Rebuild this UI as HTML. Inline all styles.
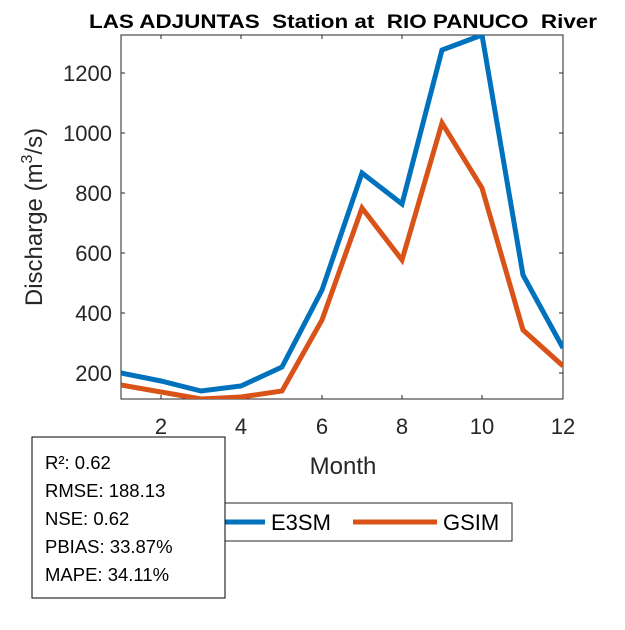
<!DOCTYPE html>
<html><head><style>body{margin:0;background:#fff}</style></head><body>
<svg width="625" height="625" xmlns="http://www.w3.org/2000/svg" font-family="Liberation Sans, Arial, sans-serif">
<rect width="625" height="625" fill="#fff"/>
<text x="89" y="28" font-size="19" font-weight="bold" fill="#000" textLength="508" lengthAdjust="spacingAndGlyphs" style="white-space:pre">LAS ADJUNTAS&#160; Station at&#160; RIO PANUCO&#160; River</text>
<g stroke="#262626" stroke-width="1" fill="none">
<rect x="121" y="35" width="442" height="364"/>
<path d="M161 399v-4M241 399v-4M322 399v-4M402 399v-4M482 399v-4M563 399v-4"/>
<path d="M161 35v4M241 35v4M322 35v4M402 35v4M482 35v4"/>
<path d="M121 73h4M121 133h4M121 193h4M121 253h4M121 313h4M121 373h4"/>
<path d="M563 73h-4M563 133h-4M563 193h-4M563 253h-4M563 313h-4M563 373h-4"/>
</g>
<g font-size="22" fill="#262626" text-anchor="middle">
<text x="161" y="434">2</text><text x="241" y="434">4</text><text x="322" y="434">6</text><text x="402" y="434">8</text><text x="482" y="434">10</text><text x="563" y="434">12</text>
</g>
<g font-size="22" fill="#262626" text-anchor="end">
<text x="112" y="81">1200</text><text x="112" y="141">1000</text><text x="112" y="201">800</text><text x="112" y="261">600</text><text x="112" y="321">400</text><text x="112" y="381">200</text>
</g>
<text x="343" y="474" font-size="24" fill="#262626" text-anchor="middle">Month</text>
<text transform="translate(42,217) rotate(-90)" font-size="24" fill="#262626" text-anchor="middle">Discharge (m<tspan font-size="16" dy="-10">3</tspan><tspan dy="10">/s)</tspan></text>
<svg x="121" y="35" width="442" height="364" overflow="hidden">
<g transform="translate(-121,-35)" fill="none" stroke-width="5" stroke-linejoin="miter">
<polyline stroke="#D95319" points="121,385 161,392 201,399 241,397 282,391 322,320 362,208 402,260 442,123 482,188 523,330 563,366"/>
<polyline stroke="#0072BD" points="121,373 161,381 201,391 241,386 282,367 322,290 362,173 402,204 442,50 482,35 523,275 563,348"/>
</g></svg>
<rect x="190" y="503" width="322" height="38" fill="#fff" stroke="#262626"/>
<line x1="181" y1="522" x2="265" y2="522" stroke="#0072BD" stroke-width="5"/>
<text x="271" y="530" font-size="22" fill="#000">E3SM</text>
<line x1="353" y1="522" x2="437" y2="522" stroke="#D95319" stroke-width="5"/>
<text x="443" y="530" font-size="22" fill="#000">GSIM</text>
<rect x="32" y="437" width="193" height="161" fill="#fff" stroke="#000"/>
<g font-size="18.5" fill="#000">
<text x="45" y="469">R²: 0.62</text>
<text x="45" y="497">RMSE: 188.13</text>
<text x="45" y="525">NSE: 0.62</text>
<text x="45" y="553">PBIAS: 33.87%</text>
<text x="45" y="581">MAPE: 34.11%</text>
</g>
</svg>
</body></html>
